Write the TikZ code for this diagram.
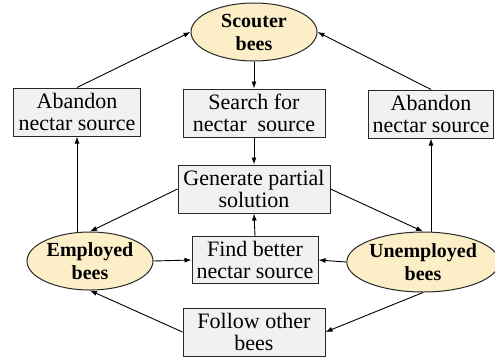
\documentclass[tikz,border=0pt]{standalone}
\usepackage{fontspec}
\setmainfont{Liberation Serif}
\usepackage{xcolor}
\usepackage{tikz}
\usetikzlibrary{arrows.meta,positioning,shapes.geometric}

\definecolor{beefill}{RGB}{252,239,200}
\definecolor{boxfill}{RGB}{241,241,241}
\definecolor{edge}{RGB}{40,40,40}

\begin{document}
\begin{tikzpicture}[
  x=1pt, y=-1pt,
  >={Latex[length=7pt,width=5pt]},
  box/.style={draw=edge, fill=boxfill, line width=1pt, inner sep=0pt,
              minimum height=48pt, align=center,
              font=\fontsize{22}{22}\selectfont},
  bee/.style={ellipse, draw=edge, fill=beefill, line width=1pt, inner sep=0pt,
              align=center, font=\fontsize{20}{23}\selectfont\bfseries},
  arr/.style={->, line width=0.9pt},
]
\useasboundingbox (0,0) rectangle (495,360);

% bees (ellipses)
\node[bee, minimum width=126pt, minimum height=58pt] (scout) at (254,32) {Scouter\\bees};
\node[bee, minimum width=126pt, minimum height=58pt] (emp) at (90,261) {Employed\\bees};
\node[bee, minimum width=143pt, minimum height=60pt] (unemp) at (423,262) {Unemployed\\bees};

% steps (boxes)
\node[box, minimum width=127pt] (abl) at (77,112) {Abandon\\nectar source};
\node[box, minimum width=142pt] (search) at (254,113) {Search for\\nectar~~source};
\node[box, minimum width=125pt] (abr) at (431,114) {Abandon\\nectar source};
\node[box, minimum width=152pt] (gen) at (254,189) {Generate partial\\solution};
\node[box, minimum width=126pt, minimum height=47pt] (find) at (255,260) {Find better\\nectar source};
\node[box, minimum width=142pt] (follow) at (254,332) {Follow other\\bees};

% middle column
\draw[arr] (scout.south) -- (search.north);
\draw[arr] (search.south) -- (gen.north);
\draw[arr] (find.north) -- (gen.south);
\draw[arr] (gen.west) -- (emp.north);
\draw[arr] (gen.east) -- (unemp.north);
\draw[arr] (emp.east) -- (find.west);
\draw[arr] (unemp.west) -- (find.east);

% abandon loops
\draw[arr] (emp.north -| abl.south) -- (abl.south);
\draw[arr] (unemp.north -| abr.south) -- (abr.south);
\draw[arr] (abl.north) -- (scout.west);
\draw[arr] (abr.north) -- (scout.east);

% following
\draw[arr] (unemp.south) -- (follow.east);
\draw[arr] (follow.west) -- (emp.south);
\end{tikzpicture}
\end{document}
